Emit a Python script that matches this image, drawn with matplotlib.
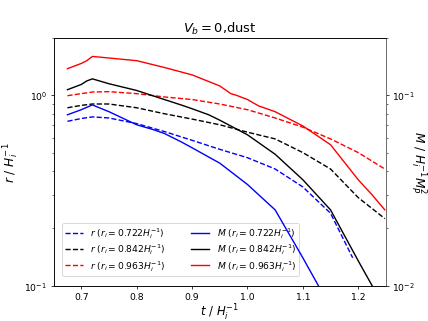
import numpy as np
import matplotlib
matplotlib.use('Agg')
import matplotlib.pyplot as plt

# time grid (t / H_i^-1)
t = [0.675, 0.70, 0.72, 0.75, 0.80, 0.85, 0.90, 0.95, 1.00, 1.05, 1.10, 1.15, 1.20, 1.248]

# r / H_i^-1 for each initial radius
r_722 = [0.73, 0.755, 0.77, 0.76, 0.71, 0.645, 0.58, 0.52, 0.47, 0.41, 0.33, 0.24, 0.14]
r_842 = [0.86, 0.885, 0.90, 0.90, 0.86, 0.80, 0.75, 0.70, 0.64, 0.59, 0.50, 0.41, 0.29, 0.225]
r_963 = [0.995, 1.02, 1.04, 1.045, 1.02, 0.98, 0.95, 0.90, 0.84, 0.76, 0.68, 0.59, 0.50, 0.41]
t_r722 = [0.675, 0.70, 0.72, 0.75, 0.80, 0.85, 0.90, 0.95, 1.00, 1.05, 1.10, 1.15, 1.19]

# M / H_i^-1 M_P^2
t_m722 = [0.675, 0.70, 0.72, 0.75, 0.80, 0.83, 0.85, 0.88, 0.90, 0.95, 1.00, 1.05, 1.10, 1.128]
M_722 = [0.079, 0.084, 0.089, 0.082, 0.070, 0.066, 0.063, 0.057, 0.053, 0.044, 0.034, 0.025, 0.014, 0.010]
t_m842 = [0.675, 0.70, 0.71, 0.72, 0.75, 0.80, 0.85, 0.88, 0.90, 0.93, 0.95, 1.00, 1.05, 1.10, 1.15, 1.20, 1.225]
M_842 = [0.107, 0.114, 0.119, 0.122, 0.115, 0.106, 0.095, 0.089, 0.085, 0.079, 0.074, 0.062, 0.049, 0.036, 0.025, 0.0135, 0.010]
t_m963 = [0.675, 0.70, 0.71, 0.72, 0.75, 0.80, 0.85, 0.90, 0.95, 0.97, 0.98, 1.00, 1.02, 1.05, 1.10, 1.15, 1.20, 1.225, 1.248]
M_963 = [0.138, 0.147, 0.152, 0.160, 0.157, 0.152, 0.140, 0.128, 0.112, 0.102, 0.100, 0.095, 0.088, 0.082, 0.069, 0.055, 0.036, 0.030, 0.025]

labels_r = [r'$r\ (r_i=0.722H_i^{-1})$', r'$r\ (r_i=0.842H_i^{-1})$', r'$r\ (r_i=0.963H_i^{-1})$']
labels_M = [r'$M\ (r_i=0.722H_i^{-1})$', r'$M\ (r_i=0.842H_i^{-1})$', r'$M\ (r_i=0.963H_i^{-1})$']
colors = ['blue', 'black', 'red']

fig = plt.figure(figsize=(6.4, 4.8), dpi=67)
ax1 = fig.add_subplot(111)
ax2 = ax1.twinx()

h = []
h += ax1.plot(t_r722, r_722, '--', color=colors[0], label=labels_r[0])
h += ax1.plot(t, r_842, '--', color=colors[1], label=labels_r[1])
h += ax1.plot(t, r_963, '--', color=colors[2], label=labels_r[2])
h += ax2.plot(t_m722, M_722, '-', color=colors[0], label=labels_M[0])
h += ax2.plot(t_m842, M_842, '-', color=colors[1], label=labels_M[1])
h += ax2.plot(t_m963, M_963, '-', color=colors[2], label=labels_M[2])

ax1.set_yscale('log')
ax2.set_yscale('log')
ax1.set_xlim(0.65, 1.25)
ax1.set_ylim(0.1, 2.0)
ax2.set_ylim(0.01, 0.2)

ax1.set_xlabel(r'$t\ /\ H_i^{-1}$', fontsize=12.5, labelpad=1)
ax1.set_ylabel(r'$r\ /\ H_i^{-1}$', fontsize=13)
ax2.set_ylabel(r'$M\ /\ H_i^{-1}M_P^2$', fontsize=13, rotation=270, labelpad=14)
ax1.set_title(r'$V_b=0$,dust', fontsize=14)
ax2.spines['right'].set_color('gray')

ax1.legend(h, [l.get_label() for l in h], loc='lower left', ncol=2,
           bbox_to_anchor=(0.025, 0.04), borderaxespad=0, borderpad=0.3,
           fontsize=9.8, labelspacing=0.15, columnspacing=2.8)

fig.savefig('out.png', dpi=67)
